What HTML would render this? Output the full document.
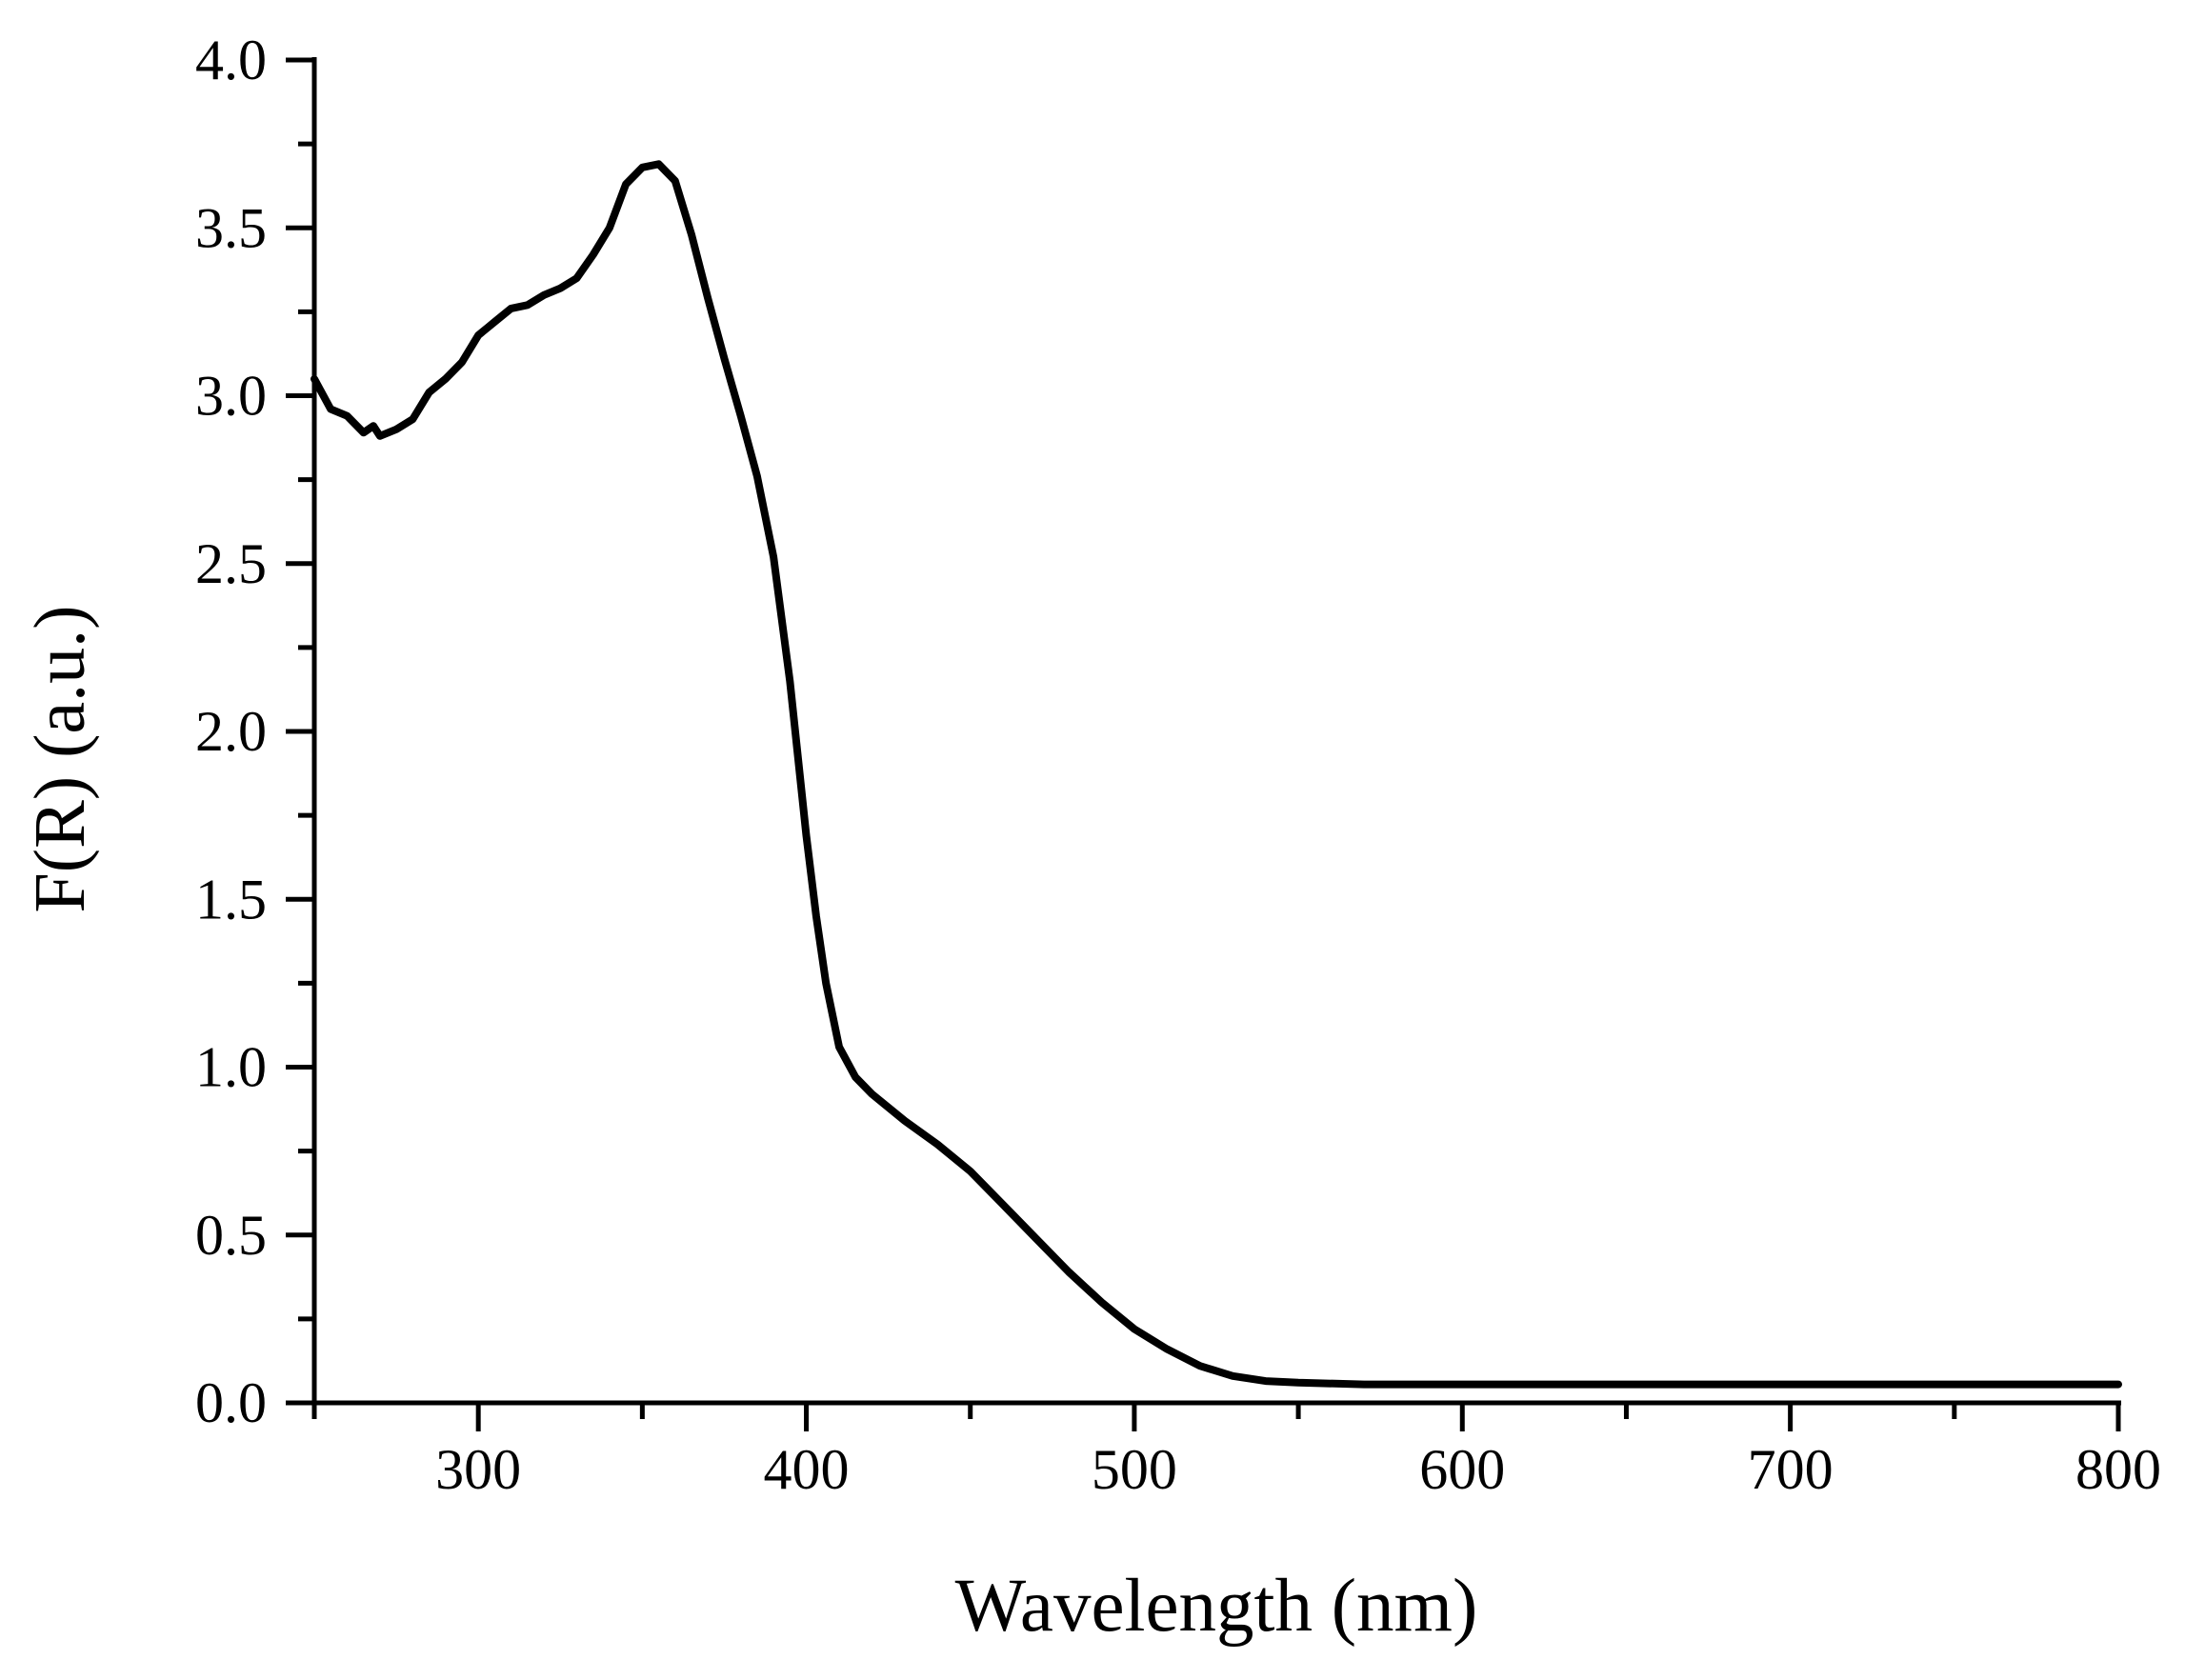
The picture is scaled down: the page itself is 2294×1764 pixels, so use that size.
<!DOCTYPE html>
<html><head><meta charset="utf-8"><style>
html,body{margin:0;padding:0;background:#fff;}
svg{display:block;font-family:"Liberation Serif",serif;}
</style></head><body>
<svg id="chart" width="2294" height="1764" viewBox="0 0 2294 1764" xmlns="http://www.w3.org/2000/svg">
<g id="axes"></g>
<path id="series" fill="none" stroke="#000" stroke-width="8" stroke-linejoin="round" stroke-linecap="round"/>
<text x="1277" y="1712" font-size="79" text-anchor="middle">Wavelength (nm)</text>
<text x="0" y="0" font-size="76" text-anchor="middle" transform="translate(88,797) rotate(-90)">F(R) (a.u.)</text>
</svg>
<script>
const wavelengths=[250,255,260,265,268,270,275,280,285,290,295,300,305,310,315,320,325,330,335,340,345,350,355,360,365,370,375,380,385,390,395,400,403,406,410,415,420,430,440,450,460,470,480,490,500,510,520,530,540,550,570,600,700,800];
const frValues=[3.05,2.96,2.94,2.89,2.91,2.88,2.90,2.93,3.01,3.05,3.10,3.18,3.22,3.26,3.27,3.30,3.32,3.35,3.42,3.50,3.63,3.68,3.69,3.64,3.48,3.29,3.11,2.94,2.76,2.52,2.15,1.69,1.45,1.25,1.06,0.97,0.92,0.84,0.77,0.69,0.59,0.49,0.39,0.30,0.22,0.16,0.11,0.08,0.065,0.06,0.055,0.055,0.055,0.055];
const xTicks=[300,400,500,600,700,800];
const xMinor=[250,350,450,550,650,750];
const yTicks=[0,0.5,1,1.5,2,2.5,3,3.5,4];
const yMinor=[0.25,0.75,1.25,1.75,2.25,2.75,3.25,3.75];
const X0=330,X1=2224,Y0=1473,Y1=63;
const xs=v=>X0+(v-250)/(800-250)*(X1-X0);
const ys=v=>Y0-(v/4)*(Y0-Y1);
const NS='http://www.w3.org/2000/svg';
const ax=document.getElementById('axes');
function ln(x1,y1,x2,y2,w,name){const l=document.createElementNS(NS,'line');l.setAttribute('x1',x1);l.setAttribute('y1',y1);l.setAttribute('x2',x2);l.setAttribute('y2',y2);l.setAttribute('stroke','#000');l.setAttribute('stroke-width',w);


ax.appendChild(l);}
function tx(x,y,s,anchor,name){const t=document.createElementNS(NS,'text');t.setAttribute('x',x);t.setAttribute('y',y);t.setAttribute('font-size','60');t.setAttribute('text-anchor',anchor);t.textContent=s;


ax.appendChild(t);}
ln(X0,Y1-3,X0,Y0+3,5,'y-axis-line');
ln(X0-3,Y0,X1+3,Y0,5,'x-axis-line');
xTicks.forEach(v=>{ln(xs(v),Y0,xs(v),Y0+30,5,'x-tick');tx(xs(v),Y0+90,String(v),'middle','x-tick-label');});
xMinor.forEach(v=>{ln(xs(v),Y0,xs(v),Y0+17,5,'x-minor-tick');});
yTicks.forEach(v=>{ln(X0-30,ys(v),X0,ys(v),5,'y-tick');tx(X0-50,ys(v)+20,v.toFixed(1),'end','y-tick-label');});
yMinor.forEach(v=>{ln(X0-17,ys(v),X0,ys(v),5,'y-minor-tick');});
let d='';wavelengths.forEach((w,i)=>{d+=(i?'L':'M')+xs(w).toFixed(1)+','+ys(frValues[i]).toFixed(1);});
document.getElementById('series').setAttribute('d',d);
</script>
</body></html>
